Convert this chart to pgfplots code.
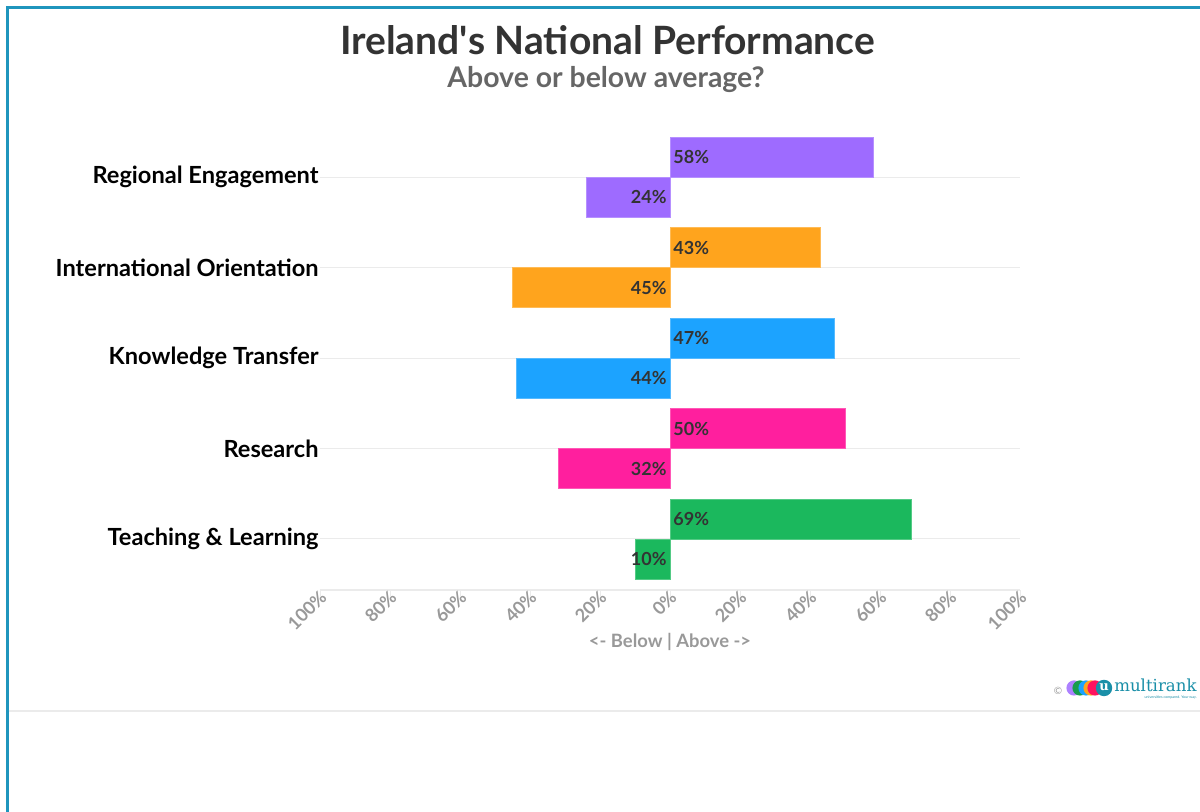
\documentclass[border=0pt]{standalone}
\usepackage{fontspec}
\setmainfont{Lato}
\newfontfamily\logofont{DejaVu Serif}
\usepackage{pgfplots}
\pgfplotsset{compat=1.18}
\definecolor{bordc}{HTML}{1F95BD}
\definecolor{titlec}{HTML}{333333}
\definecolor{subc}{HTML}{666666}
\definecolor{tickc}{HTML}{999999}
\definecolor{gridc}{HTML}{EBEBEB}
\definecolor{cpurple}{HTML}{9E6BFF}
\definecolor{corange}{HTML}{FFA41D}
\definecolor{cblue}{HTML}{1CA3FF}
\definecolor{cpink}{HTML}{FF1F9E}
\definecolor{cgreen}{HTML}{1BB85D}
\definecolor{logoc}{HTML}{1A8FA8}
\begin{document}
\begin{tikzpicture}[x=1pt,y=1pt]
\useasboundingbox (0,0) rectangle (600,406);
\fill[white] (0,0) rectangle (600,406);
\draw[bordc, line width=1.5pt] (3.5,0) -- (3.5,402) -- (600,402);
\draw[gridc, line width=1pt] (4.3,50.5) -- (600,50.5);
\node[font=\fontsize{19.5}{22}\selectfont\bfseries, text=titlec] at (303.75,386) {Ireland\textquotesingle s National Performance};
\node[font=\fontsize{14.2}{16}\selectfont\bfseries, text=subc] at (303,366) {Above or below average?};
\begin{axis}[
  at={(160pt,111pt)}, anchor=south west,
  width=350pt, height=229pt, scale only axis,
  xmin=-100, xmax=100, ymin=-0.564, ymax=4.5,
  axis lines*=left,
  y axis line style={draw=none},
  x axis line style={draw=gridc, line width=0.6pt},
  xtick={-100,-80,...,100},
  xticklabels={100\%,80\%,60\%,40\%,20\%,0\%,20\%,40\%,60\%,80\%,100\%},
  xtick style={draw=gridc},
  tick align=outside,
  major tick length=3pt,
  xticklabel style={rotate=45, anchor=east, font=\fontsize{9}{10}\selectfont\bfseries, text=tickc, inner sep=1pt, xshift=3pt, yshift=-0.5pt},
  ytick={0,1,2,3,4},
  yticklabels={Teaching \& Learning, Research, Knowledge Transfer, International Orientation, Regional Engagement},
  yticklabel style={font=\fontsize{11.8}{13}\selectfont\bfseries, text=black, inner sep=1pt, xshift=3.5pt},
  ytick style={draw=none},
  ymajorgrids, major grid style={draw=gridc, line width=0.5pt},
  xlabel={\textless{}- Below | Above -\textgreater{}},
  xlabel style={font=\fontsize{9.2}{10}\selectfont\bfseries, text=tickc, yshift=4pt},
  clip=false,
]
\addplot[xbar, fill=cpurple, draw=cpurple!75!white, bar width=0.442, bar shift=0.221] coordinates {(58,4)};
\addplot[xbar, fill=cpurple, draw=cpurple!75!white, bar width=0.442, bar shift=-0.221] coordinates {(-24,4)};
\addplot[xbar, fill=corange, draw=corange!75!white, bar width=0.442, bar shift=0.221] coordinates {(43,3)};
\addplot[xbar, fill=corange, draw=corange!75!white, bar width=0.442, bar shift=-0.221] coordinates {(-45,3)};
\addplot[xbar, fill=cblue, draw=cblue!75!white, bar width=0.442, bar shift=0.221] coordinates {(47,2)};
\addplot[xbar, fill=cblue, draw=cblue!75!white, bar width=0.442, bar shift=-0.221] coordinates {(-44,2)};
\addplot[xbar, fill=cpink, draw=cpink!75!white, bar width=0.442, bar shift=0.221] coordinates {(50,1)};
\addplot[xbar, fill=cpink, draw=cpink!75!white, bar width=0.442, bar shift=-0.221] coordinates {(-32,1)};
\addplot[xbar, fill=cgreen, draw=cgreen!75!white, bar width=0.442, bar shift=0.221] coordinates {(69,0)};
\addplot[xbar, fill=cgreen, draw=cgreen!75!white, bar width=0.442, bar shift=-0.221] coordinates {(-10,0)};
% labels
\addplot[draw=none, mark=none, point meta=explicit symbolic,
  nodes near coords={\pgfplotspointmeta\%},
  nodes near coords style={anchor=west, font=\fontsize{9}{10}\selectfont\bfseries, text=titlec, inner sep=1.5pt}]
  coordinates {(0,4.221)[58] (0,3.221)[43] (0,2.221)[47] (0,1.221)[50] (0,0.221)[69]};
\addplot[draw=none, mark=none, point meta=explicit symbolic,
  nodes near coords={\pgfplotspointmeta\%},
  nodes near coords style={anchor=east, font=\fontsize{9}{10}\selectfont\bfseries, text=titlec, inner sep=1.5pt}]
  coordinates {(0,3.779)[24] (0,2.779)[45] (0,1.779)[44] (0,0.779)[32] (0,-0.221)[10]};
\end{axis}
% logo
\node[text=tickc, font=\fontsize{5}{6}\selectfont] at (529,60.5) {\copyright};
\fill[cpurple!85!white] (537,62) circle (3.8);
\fill[cgreen!85!black] (540,62) circle (3.8);
\fill[cblue] (543,62) circle (3.8);
\fill[corange] (545.5,62) circle (3.8);
\fill[cpink!60!red] (547.5,62) circle (3.8);
\fill[logoc] (552,62) circle (4.1);
\node[text=white, font=\logofont\fontsize{6.5}{8}\selectfont\bfseries] at (552,62.5) {u};
\node[text=logoc, font=\logofont\fontsize{8.3}{10}\selectfont, anchor=east, inner sep=0pt] at (598.5,63.5) {multirank};
\node[text=logoc, font=\fontsize{1.8}{2}\selectfont, anchor=east, inner sep=0pt] at (598.5,57.5) {universities compared. Your way.};
\end{tikzpicture}
\end{document}
